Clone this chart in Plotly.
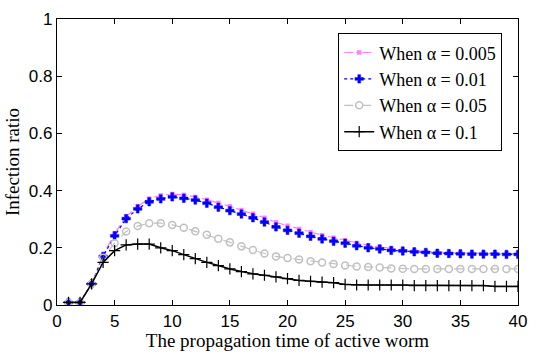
import plotly.graph_objects as go

t = list(range(1, 41))

alpha_0005 = [0.009, 0.009, 0.074, 0.175, 0.25, 0.31, 0.345, 0.372, 0.383, 0.388,
              0.385, 0.378, 0.368, 0.357, 0.345, 0.332, 0.319, 0.305, 0.289, 0.277,
              0.266, 0.255, 0.244, 0.235, 0.226, 0.217, 0.209, 0.203, 0.197, 0.193,
              0.19, 0.187, 0.185, 0.183, 0.182, 0.181, 0.181, 0.18, 0.18, 0.18]
alpha_001 = [0.009, 0.009, 0.074, 0.17, 0.242, 0.302, 0.336, 0.361, 0.371, 0.378,
             0.373, 0.367, 0.356, 0.342, 0.33, 0.318, 0.305, 0.29, 0.273, 0.261,
             0.251, 0.24, 0.231, 0.223, 0.216, 0.207, 0.2, 0.196, 0.191, 0.189,
             0.186, 0.184, 0.181, 0.18, 0.179, 0.178, 0.178, 0.178, 0.177, 0.177]
alpha_005 = [0.009, 0.009, 0.074, 0.165, 0.216, 0.257, 0.276, 0.286, 0.286, 0.28,
             0.27, 0.258, 0.246, 0.232, 0.219, 0.205, 0.192, 0.18, 0.17, 0.164,
             0.159, 0.153, 0.149, 0.143, 0.138, 0.135, 0.133, 0.131, 0.128, 0.127,
             0.126, 0.126, 0.126, 0.126, 0.126, 0.126, 0.126, 0.126, 0.126, 0.126]
alpha_01 = [0.009, 0.009, 0.074, 0.149, 0.19, 0.21, 0.213, 0.213, 0.2, 0.19,
            0.176, 0.162, 0.149, 0.138, 0.126, 0.117, 0.109, 0.104, 0.098, 0.092,
            0.086, 0.083, 0.08, 0.078, 0.072, 0.07, 0.07, 0.07, 0.07, 0.07,
            0.068, 0.068, 0.068, 0.068, 0.068, 0.068, 0.068, 0.065, 0.065, 0.065]

labels = ["When \u03b1 = 0.005", "When \u03b1 = 0.01", "When \u03b1 = 0.05", "When \u03b1 = 0.1"]

fig = go.Figure()
fig.add_trace(go.Scatter(x=t, y=alpha_0005, name=labels[0], mode="lines+markers",
                         line=dict(color="#ff80ff", width=1.2, dash="dashdot"),
                         marker=dict(symbol="square", size=4.5, color="#ff80ff")))
fig.add_trace(go.Scatter(x=t, y=alpha_001, name=labels[1], mode="lines+markers",
                         line=dict(color="#0000ff", width=1.2, dash="dot"),
                         marker=dict(symbol="cross", size=7, color="#0000ff",
                                     line=dict(color="#0000ff", width=0.5))))
fig.add_trace(go.Scatter(x=t, y=alpha_005, name=labels[2], mode="lines+markers",
                         line=dict(color="#c0c0c0", width=1.2, dash="dash"),
                         marker=dict(symbol="circle-open", size=7, color="#c0c0c0",
                                     line=dict(color="#c0c0c0", width=1.5))))
fig.add_trace(go.Scatter(x=t, y=alpha_01, name=labels[3], mode="lines+markers",
                         line=dict(color="#000000", width=1.5),
                         marker=dict(symbol="cross-thin-open", size=8, color="#000000",
                                     line=dict(color="#000000", width=1.2))))

axis_common = dict(showline=True, linecolor="black", linewidth=1.2, mirror="ticks",
                   ticks="inside", ticklen=5, tickcolor="black", showgrid=False,
                   zeroline=False,
                   tickfont=dict(family="Liberation Sans, Arial", size=17, color="black"))

fig.update_xaxes(range=[0, 40], tickvals=[0, 5, 10, 15, 20, 25, 30, 35, 40],
                 title=dict(text="The propagation time of active worm",
                            font=dict(family="Liberation Serif, Times New Roman", size=19, color="black"),
                            standoff=0),
                 **axis_common)
fig.update_yaxes(range=[0, 1], tickvals=[0, 0.2, 0.4, 0.6, 0.8, 1],
                 ticktext=["0", "0.2", "0.4", "0.6", "0.8", "1"],
                 title=dict(text="Infection ratio",
                            font=dict(family="Liberation Serif, Times New Roman", size=19, color="black"),
                            standoff=4),
                 **axis_common)

fig.update_layout(
    width=537, height=354,
    margin=dict(l=57, r=10, t=14, b=46),
    plot_bgcolor="white", paper_bgcolor="white",
    legend=dict(x=0.61, y=0.95, xanchor="left", yanchor="top",
                bgcolor="white", bordercolor="black", borderwidth=1,
                font=dict(family="Liberation Serif, Times New Roman", size=18, color="black"),
                tracegroupgap=0, itemwidth=30),
)

fig.write_html("out.html")
